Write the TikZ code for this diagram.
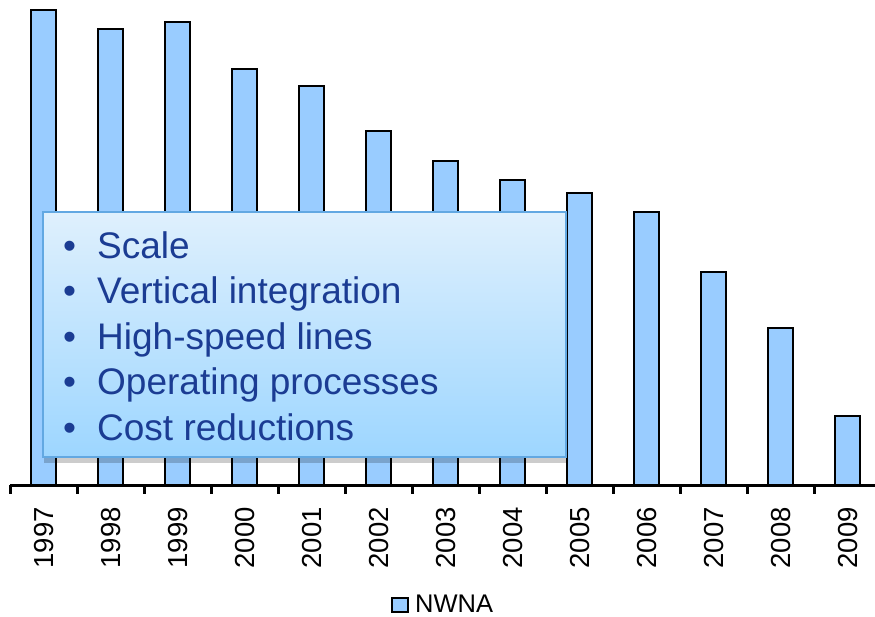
\documentclass[tikz,border=0pt]{standalone}
\usepackage{fontspec}
\setmainfont{Liberation Sans}
\definecolor{barblue}{HTML}{99CCFF}
\definecolor{boxtop}{HTML}{DFF0FD}
\definecolor{boxbot}{HTML}{9DD6FF}
\definecolor{boxedge}{HTML}{62A8E2}
\definecolor{txtblue}{HTML}{1B3C93}
\tikzset{
  bar/.style={draw=black, line width=1.4pt, fill=barblue},
  yearlbl/.style={rotate=90, anchor=east, inner sep=0pt, font=\fontsize{27.5}{27.5}\selectfont},
  bul/.style={anchor=base west, inner sep=0pt, text=txtblue, font=\fontsize{37}{37}\selectfont},
}
\begin{document}
\begin{tikzpicture}[x=1pt, y=-1pt]
\useasboundingbox (0,0) rectangle (875,616);
% bars
\foreach \i/\top/\yr in {0/10/1997,1/29/1998,2/22/1999,3/69/2000,4/86/2001,5/131/2002,6/161/2003,7/180/2004,8/193/2005,9/212/2006,10/272/2007,11/328/2008,12/416/2009}{
  \draw[bar] ({31+67*\i},485) rectangle ({56+67*\i},\top);
  \node[yearlbl] (y\yr) at ({44.5+67*\i},507) {\yr};
}
% axis
\draw[line width=3pt] (10,485) -- (875,485);
\foreach \k in {0,...,12}{
  \draw[line width=3pt] ({10+67*\k},485) -- ({10+67*\k},494);
}
% text box shadow
\fill[black, opacity=0.2] (44,457) rectangle (566,463);
% text box
\shade[top color=boxtop, bottom color=boxbot] (43,212) rectangle (566,457);
\draw[boxedge, line width=2pt] (43,212) rectangle (566,457);
\foreach \t/\yy [count=\n] in {Scale/258,Vertical integration/303.5,High-speed lines/349,Operating processes/394.5,Cost reductions/440}{
  \node[bul] (b\n) at (63,\yy) {\textbullet};
  \node[bul] (t\n) at (97,\yy) {\t};
}
% legend
\draw[draw=black, line width=1.4pt, fill=barblue] (392,598) rectangle (408,612);
\node[anchor=base west, inner sep=0pt, font=\fontsize{25.5}{25.5}\selectfont] (leg) at (415,612) {NWNA};
\end{tikzpicture}
\end{document}
